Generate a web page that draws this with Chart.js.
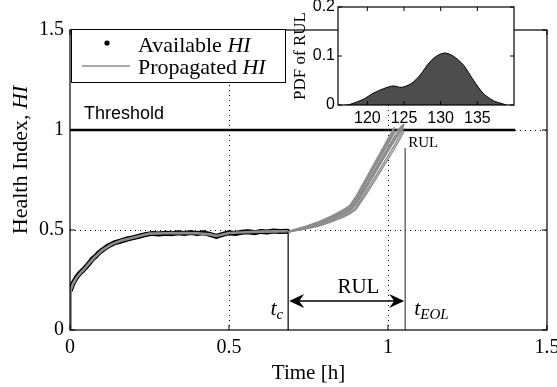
<!DOCTYPE html>
<html>
<head>
<meta charset="utf-8">
<script src="https://cdn.jsdelivr.net/npm/chart.js@4/dist/chart.umd.min.js"></script>
<style>
  html,body{margin:0;padding:0;background:#fff;}
  #wrap{position:relative;width:557px;height:387px;}
  #main{position:absolute;left:0;top:0;}
  #inset{position:absolute;left:290px;top:0;}
</style>
</head>
<body>
<div id="wrap">
  <canvas id="main" width="557" height="387"></canvas>
  <canvas id="inset" width="267" height="135"></canvas>
</div>
<script>
// ---------------- DATA ----------------
const availTime = [0, 0.005, 0.01, 0.02, 0.03, 0.04, 0.05, 0.06, 0.07, 0.08, 0.09, 0.10, 0.12, 0.14, 0.16, 0.18, 0.20, 0.22, 0.24, 0.26, 0.28, 0.30, 0.32, 0.34, 0.36, 0.38, 0.40, 0.42, 0.44, 0.46, 0.48, 0.50, 0.52, 0.54, 0.56, 0.58, 0.60, 0.62, 0.64, 0.66, 0.686];
const availHI   = [0.195, 0.215, 0.235, 0.262, 0.283, 0.298, 0.315, 0.333, 0.355, 0.368, 0.385, 0.398, 0.420, 0.436, 0.445, 0.455, 0.462, 0.470, 0.478, 0.483, 0.480, 0.484, 0.481, 0.486, 0.483, 0.487, 0.482, 0.486, 0.478, 0.468, 0.478, 0.486, 0.483, 0.489, 0.491, 0.487, 0.493, 0.490, 0.495, 0.492, 0.494];

const estTime = [0, 0.002, 0.01, 0.02, 0.03, 0.05, 0.07, 0.10, 0.13, 0.16, 0.20, 0.25, 0.30, 0.35, 0.40, 0.44, 0.46, 0.48, 0.50, 0.55, 0.60, 0.65, 0.686];
const estHI   = [0, 0.200, 0.232, 0.260, 0.280, 0.314, 0.352, 0.397, 0.428, 0.446, 0.463, 0.482, 0.484, 0.485, 0.484, 0.478, 0.470, 0.477, 0.485, 0.489, 0.492, 0.493, 0.494];

const partTime = [0.686, 0.70, 0.74, 0.78, 0.82, 0.86, 0.88, 0.90, 0.94, 0.98, 1.02, 1.05];
const particle1  = [0.490, 0.496, 0.510, 0.528, 0.551, 0.580, 0.598, 0.632, 0.738, 0.846, 0.952, 1.030];
const particle2  = [0.490, 0.498, 0.514, 0.535, 0.560, 0.592, 0.612, 0.654, 0.764, 0.874, 0.984, 1.030];
const particle3  = [0.490, 0.495, 0.507, 0.522, 0.543, 0.570, 0.586, 0.614, 0.714, 0.818, 0.923, 1.010];
const particle4  = [0.490, 0.499, 0.518, 0.541, 0.568, 0.602, 0.623, 0.670, 0.785, 0.900, 1.015, null];
const particle5  = [0.490, 0.497, 0.511, 0.530, 0.553, 0.583, 0.601, 0.638, 0.745, 0.853, 0.960, 1.028];
const particle6  = [0.490, 0.496, 0.509, 0.526, 0.549, 0.577, 0.594, 0.627, 0.732, 0.840, 0.946, 1.022];
const particle7  = [0.490, 0.498, 0.515, 0.536, 0.561, 0.593, 0.613, 0.657, 0.770, 0.883, 0.995, null];
const particle8  = [0.490, 0.494, 0.505, 0.519, 0.539, 0.565, 0.580, 0.604, 0.700, 0.802, 0.905, 0.992];
const particle9  = [0.490, 0.499, 0.516, 0.537, 0.563, 0.596, 0.615, 0.660, 0.774, 0.889, 1.004, null];
const particle10 = [0.490, 0.497, 0.512, 0.532, 0.555, 0.586, 0.604, 0.644, 0.750, 0.859, 0.966, 1.026];
const particles = [particle1, particle2, particle3, particle4, particle5, particle6, particle7, particle8, particle9, particle10];

const threshold = 1;
const thresholdEnd = 1.4;
const tC = 0.686;
const tEOL = 1.054;
const tEOLLineTop = 0.91;
const rulArrowY = 0.145;

const xTicks = [0, 0.5, 1, 1.5];
const yTicks = [0, 0.5, 1, 1.5];

// inset: PDF of RUL
const pdfX = [117.0, 117.6, 119.45, 120.8, 122.2, 123.5, 124.7, 126.05, 127.2, 128.55, 129.7, 130.6, 131.7, 133.1, 134.45, 135.8, 137.2, 138.55, 139.0];
const pdfY = [0, 0.001, 0.0116, 0.0239, 0.0333, 0.0388, 0.0361, 0.0443, 0.0612, 0.0884, 0.102, 0.106, 0.100, 0.0816, 0.051, 0.0239, 0.0088, 0.002, 0];
const insetXTicks = [120, 125, 130, 135];
const insetYTicks = [0, 0.1, 0.2];

// ---------------- HELPERS ----------------
const SERIF = "'Liberation Serif','Times New Roman',serif";
const SANS = "'Liberation Sans',Arial,sans-serif";
const pts = (xs, ys) => xs.map((x, i) => ({x: x, y: ys[i]}));

function richText(ctx, parts, x, y, align) {
  let w = 0;
  parts.forEach(p => { ctx.font = p.font; w += ctx.measureText(p.t).width; });
  let cx = align === 'center' ? x - w / 2 : align === 'right' ? x - w : x;
  parts.forEach(p => {
    ctx.font = p.font;
    ctx.textAlign = 'left';
    ctx.fillText(p.t, cx, y + (p.dy || 0));
    cx += ctx.measureText(p.t).width;
  });
}

function arrowHead(ctx, x, y, dir) {
  ctx.beginPath();
  ctx.moveTo(x, y);
  ctx.lineTo(x - dir * 15, y - 7);
  ctx.lineTo(x - dir * 10, y);
  ctx.lineTo(x - dir * 15, y + 7);
  ctx.closePath();
  ctx.fill();
}

// ---------------- MAIN CHART ----------------
const mainPlugin = {
  id: 'mainDeco',
  beforeDatasetsDraw(chart) {
    const {ctx, chartArea: a, scales: {x, y}} = chart;
    ctx.save();
    ctx.strokeStyle = '#000';
    ctx.lineWidth = 1;
    ctx.setLineDash([1, 4]);
    [0.5, 1].forEach(v => {
      const px = Math.round(x.getPixelForValue(v)) + 0.5;
      ctx.beginPath(); ctx.moveTo(px, a.top); ctx.lineTo(px, a.bottom); ctx.stroke();
    });
    [0.5, 1].forEach(v => {
      const py = Math.round(y.getPixelForValue(v)) + 0.5;
      ctx.beginPath(); ctx.moveTo(a.left, py); ctx.lineTo(a.right, py); ctx.stroke();
    });
    ctx.restore();
  },
  afterDatasetsDraw(chart) {
    const {ctx, chartArea: a, scales: {x, y}} = chart;
    ctx.save();
    ctx.strokeStyle = '#000';
    ctx.lineWidth = 1.2;
    ctx.strokeRect(a.left, a.top, a.right - a.left, a.bottom - a.top);
    ctx.lineWidth = 1;
    xTicks.forEach(v => {
      const px = x.getPixelForValue(v);
      ctx.beginPath(); ctx.moveTo(px, a.bottom); ctx.lineTo(px, a.bottom - 5); ctx.stroke();
      ctx.beginPath(); ctx.moveTo(px, a.top); ctx.lineTo(px, a.top + 5); ctx.stroke();
    });
    yTicks.forEach(v => {
      const py = y.getPixelForValue(v);
      ctx.beginPath(); ctx.moveTo(a.left, py); ctx.lineTo(a.left + 5, py); ctx.stroke();
      ctx.beginPath(); ctx.moveTo(a.right, py); ctx.lineTo(a.right - 5, py); ctx.stroke();
    });

    ctx.fillStyle = '#000';
    ctx.textBaseline = 'alphabetic';
    ctx.font = '18px ' + SANS;
    ctx.textAlign = 'left';
    ctx.fillText('Threshold', x.getPixelForValue(0.044), y.getPixelForValue(threshold) - 11);

    const ay = y.getPixelForValue(rulArrowY);
    const x1 = x.getPixelForValue(tC), x2 = x.getPixelForValue(tEOL);
    ctx.lineWidth = 1.5;
    ctx.beginPath(); ctx.moveTo(x1 + 8, ay); ctx.lineTo(x2 - 8, ay); ctx.stroke();
    arrowHead(ctx, x1 + 1, ay, -1);
    arrowHead(ctx, x2 - 1, ay, 1);
    ctx.font = '21px ' + SERIF;
    ctx.textAlign = 'center';
    ctx.fillText('RUL', x.getPixelForValue(0.907), ay - 8);

    const ty = y.getPixelForValue(0.075);
    richText(ctx, [{t: 't', font: 'italic 22px ' + SERIF}, {t: 'c', font: 'italic 15px ' + SERIF, dy: 4}], x1 - 5, ty, 'right');
    richText(ctx, [{t: 't', font: 'italic 22px ' + SERIF}, {t: 'EOL', font: 'italic 15px ' + SERIF, dy: 4}], x2 + 9, ty, 'left');

    ctx.font = '15px ' + SERIF;
    ctx.textAlign = 'left';
    ctx.fillText('RUL', x2 + 3, y.getPixelForValue(0.915));

    ctx.font = '21px ' + SERIF;
    ctx.textAlign = 'center';
    ctx.fillText('Time [h]', (a.left + a.right) / 2, 379);
    ctx.save();
    ctx.translate(27, 160);
    ctx.rotate(-Math.PI / 2);
    richText(ctx, [{t: 'Health Index, ', font: '22px ' + SERIF}, {t: 'HI', font: 'italic 22px ' + SERIF}], 0, 0, 'center');
    ctx.restore();

    const lx = a.left + 1, ly = a.top - 1, lw = 214, lh = 53;
    ctx.fillStyle = '#fff';
    ctx.fillRect(lx, ly, lw, lh);
    ctx.strokeStyle = '#000';
    ctx.lineWidth = 1;
    ctx.strokeRect(lx + 0.5, ly + 0.5, lw, lh);
    ctx.fillStyle = '#000';
    ctx.beginPath(); ctx.arc(lx + 36, ly + 14, 2.6, 0, Math.PI * 2); ctx.fill();
    richText(ctx, [{t: 'Available ', font: '22px ' + SERIF}, {t: 'HI', font: 'italic 22px ' + SERIF}], lx + 67, ly + 23, 'left');
    ctx.strokeStyle = '#8c8c8c';
    ctx.lineWidth = 1.5;
    ctx.beginPath(); ctx.moveTo(lx + 11, ly + 37); ctx.lineTo(lx + 59, ly + 37); ctx.stroke();
    richText(ctx, [{t: 'Propagated ', font: '22px ' + SERIF}, {t: 'HI', font: 'italic 22px ' + SERIF}], lx + 67, ly + 45, 'left');
    ctx.restore();
  }
};

const particleDatasets = particles.map((p, i) => ({
  label: 'Propagated ' + (i + 1),
  data: pts(partTime, p),
  borderColor: '#8c8c8c',
  borderWidth: 1.4,
  pointRadius: 0,
  tension: 0,
  order: 1
}));

new Chart(document.getElementById('main'), {
  type: 'line',
  data: {
    datasets: [
      ...particleDatasets,
      { label: 'Threshold', data: pts([0, thresholdEnd], [threshold, threshold]), borderColor: '#000', borderWidth: 2.6, pointRadius: 0, order: 2 },
      { label: 'tc', data: pts([tC, tC], [0, availHI[availHI.length - 1]]), borderColor: '#000', borderWidth: 1.2, pointRadius: 0, order: 2 },
      { label: 'tEOL', data: pts([tEOL, tEOL], [0, tEOLLineTop]), borderColor: '#555', borderWidth: 1.3, pointRadius: 0, order: 2 },
      { label: 'Estimated', data: pts(estTime, estHI), borderColor: '#8c8c8c', borderWidth: 2.6, pointRadius: 0, order: 3 },
      { label: 'Available HI', data: pts(availTime, availHI), borderColor: '#000', backgroundColor: '#000', borderWidth: 5, pointRadius: 2.2, pointBorderWidth: 0, order: 4 }
    ]
  },
  options: {
    responsive: false,
    animation: false,
    layout: { padding: { top: 30, right: 10, left: 0, bottom: 0 } },
    plugins: { legend: { display: false }, tooltip: { enabled: false } },
    scales: {
      x: {
        type: 'linear', min: 0, max: 1.5,
        afterBuildTicks: s => { s.ticks = xTicks.map(v => ({value: v})); },
        afterFit: s => { s.height = 57; s.paddingLeft = 0; s.paddingRight = 0; },
        grid: { display: false, drawTicks: false },
        border: { display: false },
        ticks: { color: '#000', font: { family: SERIF, size: 20 }, padding: 6, maxRotation: 0,
                 callback: v => String(v) }
      },
      y: {
        type: 'linear', min: 0, max: 1.5,
        afterBuildTicks: s => { s.ticks = yTicks.map(v => ({value: v})); },
        afterFit: s => { s.width = 70; s.paddingTop = 0; s.paddingBottom = 0; },
        grid: { display: false, drawTicks: false },
        border: { display: false },
        ticks: { color: '#000', font: { family: SERIF, size: 20 }, padding: 6,
                 callback: v => String(v) }
      }
    }
  },
  plugins: [mainPlugin]
});

// ---------------- INSET CHART ----------------
const insetPlugin = {
  id: 'insetDeco',
  beforeDatasetsDraw(chart) {
    const {ctx, chartArea: a} = chart;
    ctx.save();
    ctx.fillStyle = '#fff';
    ctx.fillRect(a.left, a.top, a.right - a.left, a.bottom - a.top);
    ctx.restore();
  },
  afterDatasetsDraw(chart) {
    const {ctx, chartArea: a, scales: {x, y}} = chart;
    ctx.save();
    ctx.strokeStyle = '#000';
    ctx.lineWidth = 1.2;
    ctx.strokeRect(a.left, a.top, a.right - a.left, a.bottom - a.top);
    ctx.lineWidth = 1;
    insetXTicks.forEach(v => {
      const px = x.getPixelForValue(v);
      ctx.beginPath(); ctx.moveTo(px, a.bottom); ctx.lineTo(px, a.bottom - 4); ctx.stroke();
      ctx.beginPath(); ctx.moveTo(px, a.top); ctx.lineTo(px, a.top + 4); ctx.stroke();
    });
    insetYTicks.forEach(v => {
      const py = y.getPixelForValue(v);
      ctx.beginPath(); ctx.moveTo(a.left, py); ctx.lineTo(a.left + 4, py); ctx.stroke();
      ctx.beginPath(); ctx.moveTo(a.right, py); ctx.lineTo(a.right - 4, py); ctx.stroke();
    });
    ctx.fillStyle = '#000';
    ctx.font = '17px ' + SERIF;
    ctx.textAlign = 'center';
    ctx.textBaseline = 'middle';
    ctx.translate(11, (a.top + a.bottom) / 2);
    ctx.rotate(-Math.PI / 2);
    ctx.fillText('PDF of RUL', 0, 0);
    ctx.restore();
  }
};

new Chart(document.getElementById('inset'), {
  type: 'line',
  data: {
    datasets: [{
      label: 'PDF of RUL',
      data: pts(pdfX, pdfY),
      borderColor: '#000',
      borderWidth: 1,
      backgroundColor: '#4d4d4d',
      fill: 'origin',
      pointRadius: 0,
      tension: 0.3
    }]
  },
  options: {
    responsive: false,
    animation: false,
    layout: { padding: { top: 7, right: 43, left: 0, bottom: 0 } },
    plugins: { legend: { display: false }, tooltip: { enabled: false } },
    scales: {
      x: {
        type: 'linear', min: 116, max: 140,
        afterBuildTicks: s => { s.ticks = insetXTicks.map(v => ({value: v})); },
        afterFit: s => { s.height = 30; s.paddingLeft = 0; s.paddingRight = 0; },
        grid: { display: false, drawTicks: false },
        border: { display: false },
        ticks: { color: '#000', font: { family: SANS, size: 16 }, padding: 4, maxRotation: 0 }
      },
      y: {
        type: 'linear', min: 0, max: 0.2,
        afterBuildTicks: s => { s.ticks = insetYTicks.map(v => ({value: v})); },
        afterFit: s => { s.width = 48; s.paddingTop = 0; s.paddingBottom = 0; },
        grid: { display: false, drawTicks: false },
        border: { display: false },
        ticks: { color: '#000', font: { family: SANS, size: 16 }, padding: 3,
                 callback: v => String(v) }
      }
    }
  },
  plugins: [insetPlugin]
});
</script>
</body>
</html>
